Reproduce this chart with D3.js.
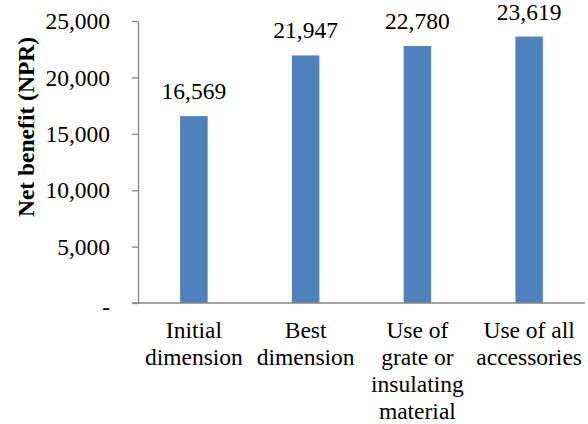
<!DOCTYPE html>
<html>
<head>
<meta charset="utf-8">
<script src="https://cdn.jsdelivr.net/npm/d3@7"></script>
<style>
  body { margin: 0; background: #fff; }
</style>
</head>
<body>
<div id="chart"></div>
<script>
// data
const categories = [
    ["Initial", "dimension"],
    ["Best", "dimension"],
    ["Use of", "grate or", "insulating", "material"],
    ["Use of all", "accessories"]
];
const values = [16569, 21947, 22780, 23619];
const yTicks = [0, 5000, 10000, 15000, 20000, 25000];

const W = 588, H = 424;
const plotLeft = 138, plotRight = 585, plotTop = 21, plotBottom = 303;
const fontSize = 23.5;
const serif = "Liberation Serif";

const svg = d3.select("#chart").append("svg")
    .attr("width", W).attr("height", H);

const x = d3.scaleBand()
    .domain(d3.range(values.length))
    .range([plotLeft, plotRight])
    .paddingInner(0.754)
    .paddingOuter(0.377);

const y = d3.scaleLinear().domain([0, 25000]).range([plotBottom, plotTop]);

const fmt = d3.format(",");

// y axis
const yAxis = svg.append("g")
    .attr("transform", `translate(${plotLeft},0)`)
    .call(d3.axisLeft(y).tickValues(yTicks).tickSize(6).tickSizeOuter(0)
        .tickFormat(d => d == 0 ? "-" : fmt(d)));
yAxis.attr("font-family", serif).attr("font-size", fontSize);
yAxis.select(".domain").attr("stroke", "#868686").attr("stroke-width", 1.3);
yAxis.selectAll(".tick line").attr("stroke", "#868686").attr("stroke-width", 1.3);
yAxis.selectAll(".tick text")
    .attr("x", -28)
    .attr("dy", "0.33em")
    .attr("fill", "#000")
    .style("font-size", fontSize + "px")
    .style("font-family", serif);
yAxis.selectAll(".tick text").filter(d => d == 0).attr("dy", "0.5em");

// bars
svg.selectAll("rect.bar")
    .data(values)
    .join("rect")
    .attr("class", "bar")
    .attr("x", (d, i) => x(i))
    .attr("y", d => y(d))
    .attr("width", x.bandwidth())
    .attr("height", d => y(0) - y(d))
    .attr("fill", "#4F81BD");

// x axis line
svg.append("line")
    .attr("x1", plotLeft - 6).attr("x2", plotRight)
    .attr("y1", plotBottom).attr("y2", plotBottom)
    .attr("stroke", "#868686")
    .attr("stroke-width", 1.3);

// data labels
svg.selectAll("text.val")
    .data(values)
    .join("text")
    .attr("class", "val")
    .attr("x", (d, i) => x(i) + x.bandwidth() / 2)
    .attr("y", d => y(d) - 17)
    .attr("text-anchor", "middle")
    .style("font-family", serif)
    .style("font-size", fontSize + "px")
    .text(d => fmt(d));

// category labels
const cat = svg.selectAll("text.cat")
    .data(categories)
    .join("text")
    .attr("class", "cat")
    .attr("text-anchor", "middle")
    .style("font-family", serif)
    .style("font-size", fontSize + "px");
cat.selectAll("tspan")
    .data((d, i) => d.map(s => ({ s: s, i: i })))
    .join("tspan")
    .attr("x", d => x(d.i) + x.bandwidth() / 2)
    .attr("y", (d, j) => 338 + j * 26.9)
    .text(d => d.s);

// y axis title
svg.append("text")
    .attr("transform", "translate(34,127) rotate(-90)")
    .attr("text-anchor", "middle")
    .style("font-family", serif)
    .style("font-size", fontSize + "px")
    .style("font-weight", "bold")
    .text("Net benefit (NPR)");
</script>
</body>
</html>
